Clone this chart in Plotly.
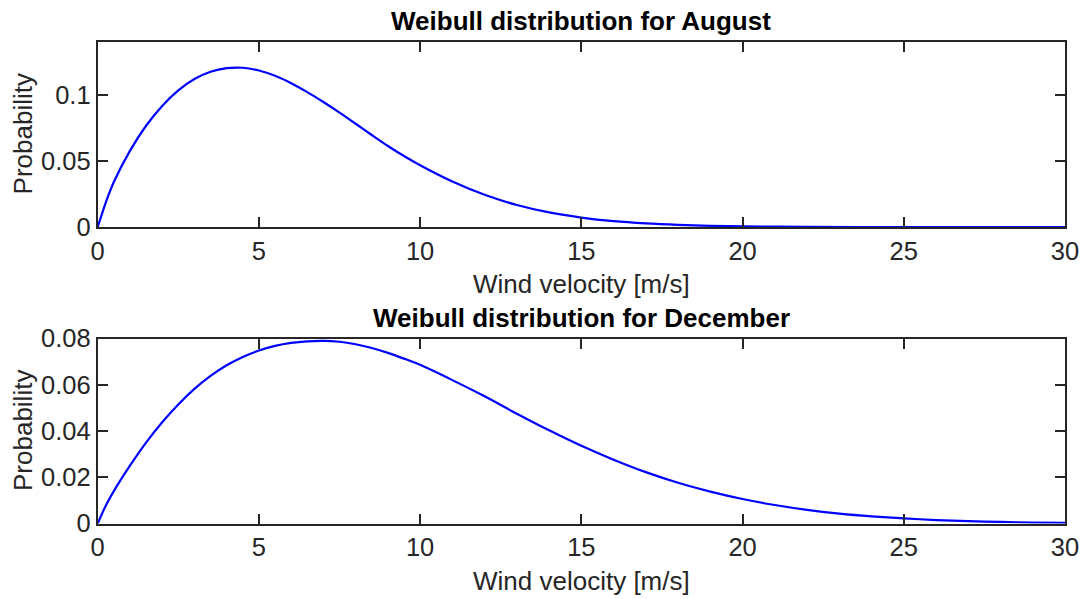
import plotly.graph_objects as go

# Wind speed samples [m/s]
august_speed = [0, 0.25, 0.5, 1, 1.5, 2, 2.5, 3, 3.5, 4, 4.5, 5, 5.5, 6, 6.5, 7, 7.5,
                8, 8.5, 9, 9.5, 10, 11, 12, 13, 14, 15, 16, 17, 18, 19, 20, 22, 25, 30]
august_prob = [0, 0.0185, 0.0340, 0.0575, 0.0765, 0.0915, 0.1032, 0.1118, 0.1173, 0.1200,
               0.1203, 0.1182, 0.1142, 0.1086, 0.1019, 0.0944, 0.0864, 0.0780, 0.0695,
               0.0612, 0.0536, 0.0466, 0.0343, 0.0243, 0.0166, 0.0110, 0.0071, 0.0044,
               0.0027, 0.0016, 0.0009, 0.0005, 0.0001, 0.0, 0.0]

december_speed = [0, 0.25, 0.5, 1, 1.5, 2, 2.5, 3, 3.5, 4, 4.5, 5, 5.5, 6, 6.5, 7, 7.5,
                  8, 8.5, 9, 9.5, 10, 11, 12, 13, 14, 15, 16, 17, 18, 19, 20, 21, 22,
                  23, 24, 25, 26, 27, 28, 29, 30]
december_prob = [0, 0.0077, 0.0140, 0.0250, 0.0350, 0.0438, 0.0515, 0.0582, 0.0638,
                 0.0684, 0.0720, 0.0748, 0.0768, 0.0781, 0.0788, 0.0790, 0.0786, 0.0775,
                 0.0759, 0.0738, 0.0713, 0.0686, 0.0620, 0.0550, 0.0475, 0.0403, 0.0336,
                 0.0276, 0.0222, 0.0176, 0.0138, 0.0106, 0.0080, 0.0059, 0.0043, 0.0031,
                 0.0022, 0.0015, 0.0010, 0.0007, 0.0004, 0.0003]

x_ticks = [0, 5, 10, 15, 20, 25, 30]
top_y_ticks = [0, 0.05, 0.1]
bottom_y_ticks = [0, 0.02, 0.04, 0.06, 0.08]

W, H = 1083, 599
FONT = "Liberation Sans, Arial, Helvetica, sans-serif"
AXIS_COLOR = "#262626"
TICK_FS = 25.5
LABEL_FS = 26

fig = go.Figure()
fig.add_trace(go.Scatter(x=august_speed, y=august_prob, mode="lines",
                         line=dict(color="#0000ff", width=2.2, shape="spline", smoothing=0.8),
                         xaxis="x", yaxis="y", showlegend=False, hoverinfo="skip"))
fig.add_trace(go.Scatter(x=december_speed, y=december_prob, mode="lines",
                         line=dict(color="#0000ff", width=2.2, shape="spline", smoothing=0.8),
                         xaxis="x2", yaxis="y2", showlegend=False, hoverinfo="skip"))

x_dom = [97.7 / W, 1065 / W]
top_dom = [1 - 227 / H, 1 - 41.7 / H]
bot_dom = [1 - 523.5 / H, 1 - 338.5 / H]

common = dict(showline=True, linecolor=AXIS_COLOR, linewidth=2, mirror="ticks",
              ticks="inside", ticklen=10, tickwidth=2, tickcolor=AXIS_COLOR,
              showgrid=False, zeroline=False, automargin=False,
              tickfont=dict(family=FONT, size=TICK_FS, color=AXIS_COLOR))

fig.update_layout(
    width=W, height=H,
    margin=dict(l=0, r=0, t=0, b=0, autoexpand=False),
    paper_bgcolor="white", plot_bgcolor="white",
    font=dict(family=FONT, size=TICK_FS, color=AXIS_COLOR),
    xaxis=dict(domain=x_dom, range=[0, 30], tickvals=x_ticks, anchor="y", **common),
    yaxis=dict(domain=top_dom, range=[0, 0.14], tickvals=top_y_ticks, anchor="x", **common),
    xaxis2=dict(domain=x_dom, range=[0, 30], tickvals=x_ticks, anchor="y2", **common),
    yaxis2=dict(domain=bot_dom, range=[0, 0.08], tickvals=bottom_y_ticks, anchor="x2", **common),
)

xc = (x_dom[0] + x_dom[1]) / 2
texts = [
    ("<b>Weibull distribution for August</b>", xc, 1 - 21 / H, 0, "black"),
    ("Wind velocity [m/s]", xc, 1 - 284 / H, 0, AXIS_COLOR),
    ("<b>Weibull distribution for December</b>", xc, 1 - 318 / H, 0, "black"),
    ("Wind velocity [m/s]", xc, 1 - 581 / H, 0, AXIS_COLOR),
    ("Probability", 23 / W, 1 - 134.4 / H, -90, AXIS_COLOR),
    ("Probability", 23 / W, 1 - 431 / H, -90, AXIS_COLOR),
]
for txt, x, y, ang, col in texts:
    fig.add_annotation(text=txt, x=x, y=y, xref="paper", yref="paper",
                       xanchor="center", yanchor="middle", showarrow=False,
                       textangle=ang, font=dict(family=FONT, size=LABEL_FS, color=col))

fig.write_html("out.html")
